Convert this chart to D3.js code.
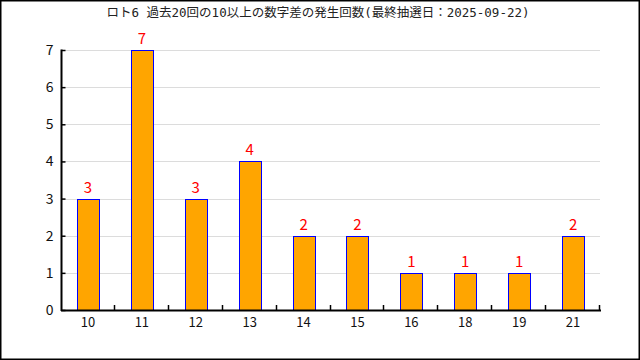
<!DOCTYPE html>
<html>
<head>
<meta charset="utf-8">
<script src="https://cdn.jsdelivr.net/npm/d3@7"></script>
<style>
  body { margin: 0; background: #fff; }
  svg { display: block; }
  text { font-family: "Noto Sans CJK JP", "DejaVu Sans", sans-serif; }
</style>
</head>
<body>
<div id="chart"></div>
<script>
// data
const titleText = "ロト6 過去20回の10以上の数字差の発生回数(最終抽選日：2025-09-22)";
const diffs = ["10", "11", "12", "13", "14", "15", "16", "18", "19", "21"];
const counts = [3, 7, 3, 4, 2, 2, 1, 1, 1, 2];
const yTicks = [0, 1, 2, 3, 4, 5, 6, 7];

var W = 640, H = 360;
var margin = {top: 50, right: 40, bottom: 50, left: 61};

var svg = d3.select("#chart")
    .append("svg")
    .attr("width", W)
    .attr("height", H);

// frame
svg.append("rect")
    .attr("x", 0.75).attr("y", 0.75)
    .attr("width", W - 1.5).attr("height", H - 1.5)
    .style("fill", "#fff")
    .style("stroke", "#000")
    .style("stroke-width", 1.5);

svg.append("text")
    .attr("x", 318)
    .attr("y", 17)
    .attr("text-anchor", "middle")
    .style("font-size", "12.5px")
    .style("font-family", "\"DejaVu Sans Mono\", \"Noto Sans CJK JP\", monospace")
    .style("fill", "#222")
    .text(titleText);

const x = d3.scaleBand()
    .domain(diffs)
    .range([margin.left, W - margin.right])
    .paddingInner(0.59)
    .paddingOuter(0.295);

const y = d3.scaleLinear()
    .domain([0, 7])
    .range([H - margin.bottom, margin.top]);

// grid
svg.append("g")
    .selectAll("line")
    .data(yTicks.filter(d => d > 0))
    .enter().append("line")
    .attr("x1", margin.left).attr("x2", W - margin.right)
    .attr("y1", d => Math.round(y(d)) + 0.5)
    .attr("y2", d => Math.round(y(d)) + 0.5)
    .style("stroke", "#dcdcdc")
    .style("stroke-width", 1);

// bars
svg.append("g")
    .selectAll("rect")
    .data(counts)
    .enter().append("rect")
    .attr("x", (d, i) => Math.round(x(diffs[i])) + 0.5)
    .attr("y", d => Math.round(y(d)) + 0.5)
    .attr("width", Math.round(x.bandwidth()))
    .attr("height", d => y(0) - Math.round(y(d)))
    .style("fill", "orange")
    .style("stroke", "blue")
    .style("stroke-width", 1);

// value labels
svg.append("g")
    .selectAll("text")
    .data(counts)
    .enter().append("text")
    .attr("x", (d, i) => x(diffs[i]) + x.bandwidth() / 2)
    .attr("y", d => y(d) - 6)
    .attr("text-anchor", "middle")
    .style("font-size", "15px")
    .style("fill", "red")
    .text(d => d);

// y axis
svg.append("g")
    .attr("transform", "translate(" + (margin.left + 0.5) + ",0)")
    .call(d3.axisLeft(y).tickValues(yTicks).tickSize(-4).tickPadding(8).tickFormat(d3.format("d")))
    .call(g => g.select(".domain").remove())
    .call(g => g.selectAll(".tick line").style("stroke", "#000").style("stroke-width", 1.5))
    .call(g => g.selectAll("text").style("font-size", "14px").style("fill", "#111")
        .style("font-family", "\"Noto Sans CJK JP\", sans-serif"));

svg.append("line")
    .attr("x1", margin.left + 0.5).attr("x2", margin.left + 0.5)
    .attr("y1", y(7) - 0.5).attr("y2", y(0) + 1)
    .style("stroke", "#000").style("stroke-width", 2);

// x axis
svg.append("line")
    .attr("x1", margin.left).attr("x2", W - margin.right + 1)
    .attr("y1", y(0) + 0.5).attr("y2", y(0) + 0.5)
    .style("stroke", "#000").style("stroke-width", 2);

svg.append("g")
    .selectAll("line")
    .data(diffs)
    .enter().append("line")
    .attr("x1", d => Math.round(x(d) + x.bandwidth() / 2 + x.step() / 2) - 0.5)
    .attr("x2", d => Math.round(x(d) + x.bandwidth() / 2 + x.step() / 2) - 0.5)
    .attr("y1", y(0)).attr("y2", y(0) - 5)
    .style("stroke", "#000").style("stroke-width", 1.5);

svg.append("g")
    .selectAll("text")
    .data(diffs)
    .enter().append("text")
    .attr("x", d => x(d) + x.bandwidth() / 2)
    .attr("y", y(0) + 17)
    .attr("text-anchor", "middle")
    .style("font-size", "13px")
    .style("fill", "#111")
    .text(d => d);
</script>
</body>
</html>
